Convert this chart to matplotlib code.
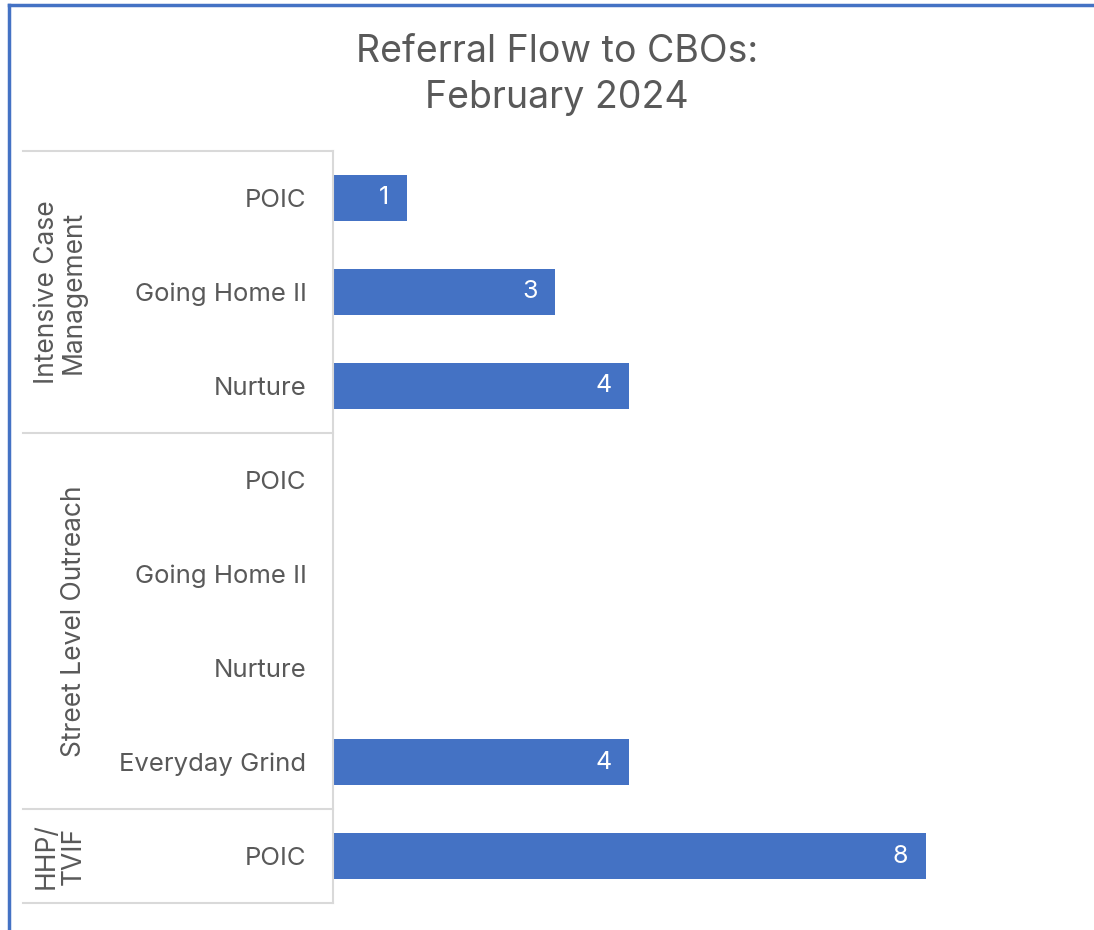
import matplotlib.pyplot as plt
from matplotlib.lines import Line2D

plt.rcParams['font.family'] = ['Inter', 'DejaVu Sans']

groups = ['Intensive Case\nManagement', 'Street Level Outreach', 'HHP/\nTVIF']
group_sizes = [3, 4, 1]
categories = ['POIC', 'Going Home II', 'Nurture',
              'POIC', 'Going Home II', 'Nurture', 'Everyday Grind',
              'POIC']
values = [1, 3, 4, 0, 0, 0, 4, 8]

bar_color = '#4472C4'
text_color = '#595959'
line_color = '#D9D9D9'

W, H = 1094, 930
fig = plt.figure(figsize=(W / 100, H / 100), dpi=100)
fig.patch.set_facecolor('white')

ax_l, ax_r, ax_t, ax_b = 333, 1074, 151, 903
ax = fig.add_axes([ax_l / W, 1 - ax_b / H, (ax_r - ax_l) / W, (ax_b - ax_t) / H])

n = len(categories)
ypos = list(range(n))
ax.barh(ypos, values, height=0.49, color=bar_color)
ax.set_xlim(0, 10)
ax.set_ylim(n - 0.5, -0.5)

for y, v in zip(ypos, values):
    if v > 0:
        ax.text(v - 0.24, y, str(v), ha='right', va='center', color='white', fontsize=18)

ax.set_yticks(ypos)
ax.set_yticklabels(categories, fontsize=18.5, color=text_color)
ax.tick_params(axis='y', length=0, pad=19)
ax.set_xticks([])
for s in ['top', 'right', 'bottom']:
    ax.spines[s].set_visible(False)
ax.spines['left'].set_color(line_color)
ax.spines['left'].set_linewidth(1.5)

# group separators and labels
trans = ax.get_yaxis_transform()
x_sep = (23 - ax_l) / (ax_r - ax_l)
x_lab = (87 - ax_l) / (ax_r - ax_l)
start = -0.5
ax.plot([x_sep, 0], [start, start], transform=trans, color=line_color, lw=1.5, clip_on=False)
for g, size in zip(groups, group_sizes):
    end = start + size
    ax.plot([x_sep, 0], [end, end], transform=trans, color=line_color, lw=1.5, clip_on=False)
    ax.text(x_lab, (start + end) / 2, g, transform=trans, rotation=90, ha='right', va='center',
            fontsize=19, color=text_color, multialignment='center', linespacing=1.05)
    start = end

fig.text(557 / W, 1 - 75 / H, 'Referral Flow to CBOs:\nFebruary 2024', ha='center', va='center',
         fontsize=27, color=text_color, linespacing=1.35)

# blue frame (left and top edges)
fig.add_artist(Line2D([9 / W, 9 / W], [0, 1 - 5 / H], color='#4472C4', lw=2.5))
fig.add_artist(Line2D([9 / W, 1], [1 - 5 / H, 1 - 5 / H], color='#4472C4', lw=2.5))

fig.savefig('out.png', dpi=100)
